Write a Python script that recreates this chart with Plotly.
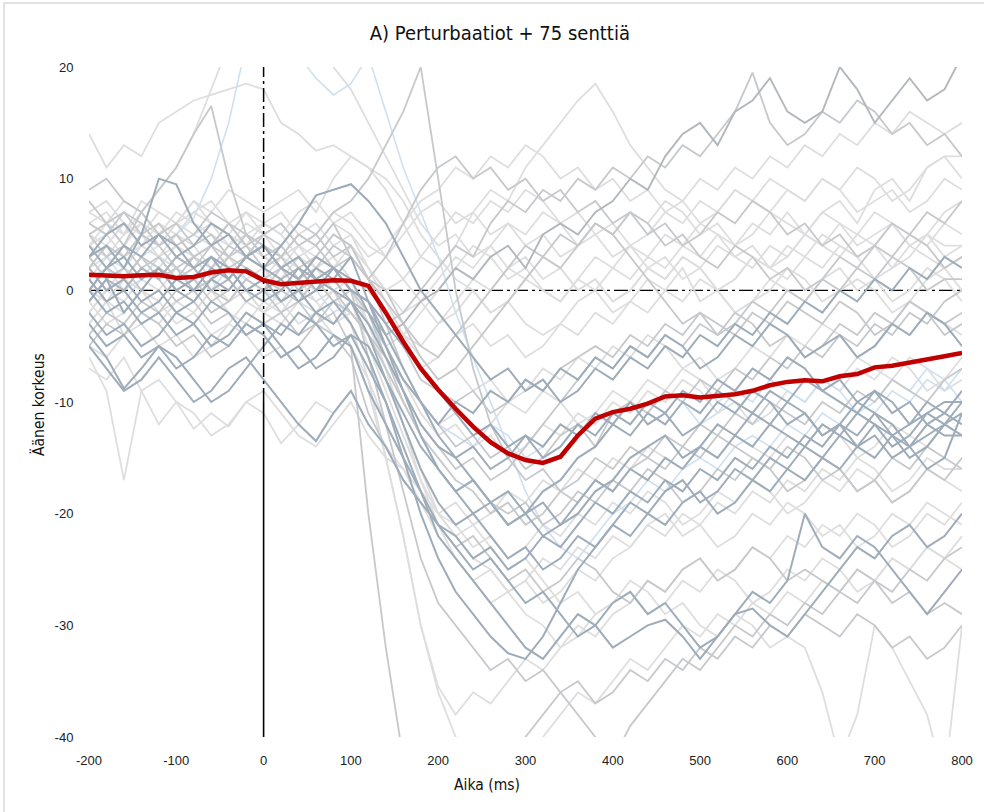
import plotly.graph_objects as go

# ---------------- data ----------------
time_ms = [-200, -180, -160, -140, -120, -100, -80, -60, -40, -20, 0,
           20, 40, 60, 80, 100, 120, 140, 160, 180, 200,
           220, 240, 260, 280, 300, 320, 340, 360, 380, 400,
           420, 440, 460, 480, 500, 520, 540, 560, 580, 600,
           620, 640, 660, 680, 700, 720, 740, 760, 780, 800]

mean_pitch = [1.4, 1.3, 1.25, 1.35, 1.4, 1.1, 1.2, 1.6, 1.8, 1.7, 0.9,
              0.55, 0.7, 0.85, 0.9, 0.85, 0.4, -2.0, -4.6, -7.0, -8.9,
              -10.6, -12.2, -13.6, -14.6, -15.2, -15.45, -14.9, -13.0, -11.5, -10.9,
              -10.6, -10.15, -9.5, -9.4, -9.6, -9.45, -9.3, -9.0, -8.5, -8.2,
              -8.05, -8.15, -7.7, -7.5, -6.9, -6.75, -6.5, -6.15, -5.9, -5.6]

trial_01 = [14, 11, 13, 12, 15, 16, 17, 17.5, 18, 18.5, 18,
            15, 14, 12.5, 13, 12, 11, 10, 8, 5, 3,
            1, 0, -2, -1, -3, -4, -3, -1, 0, 2,
            1, 3, 2, 4, 3, 5, 4, 6, 5, 7,
            5, 7, 8, 6, 9, 10, 8, 11, 12, 10]
trial_02 = [9, 10, 8, 7, 9, 11, 14, 16.5, 10, 5, 4,
            3, 5, 4, 6, 3, 1, -3, -7, -10, -12,
            -14, -13, -15, -14, -16, -15, -13, -12, -14, -11,
            -10, -11, -9, -10, -8, -9, -7, -8, -6, -7,
            -5, -6, -4, -5, -3, -4, -2, -3, -1, 0]
trial_03 = [4, 6, 5, 7, 9, 11, 14, 18, 22, 26, 30,
            28, 25, 22, 20, 18, 15, 12, 9, 6, 4,
            5, 3, 4, 2, 3, 1, 2, 0, 1, -1,
            0, 2, 1, 3, 2, 4, 3, 2, 4, 3,
            5, 4, 3, 5, 4, 6, 5, 4, 6, 5]
trial_04 = [2, 3, 1, 3, 4, 5, 6.5, 10, 15, 22, 27,
            24, 21, 19, 17.5, 18.5, 21, 16, 11, 7, 3,
            -2, -6, -10, -14, -18, -21, -23, -24, -22, -20,
            -19, -17, -18, -16, -15, -16, -14, -13, -14, -12,
            -13, -11, -12, -10, -11, -9, -10, -8, -9, -7]
trial_05 = [3, 1, 2, 0, 2, 1, 3, 2, 4, 3, 5,
            4, 6, 5, 7, 8, 10, 13, 16, 20, 10,
            0, -7, -12, -15, -17, -16, -18, -17, -15, -16,
            -14, -15, -13, -14, -12, -13, -11, -12, -10, -11,
            -12, -10, -11, -9, -10, -8, -9, -10, -8, -7]
trial_06 = [-1, 1, 0, 2, 1, 3, 2, 0, 1, -1, 0,
            1, 2, 0, 1, -1, -2, -4, -3, -1, 0,
            2, 1, 3, 4, 2, 5, 6, 5, 7, 8,
            10, 9, 12, 14, 15, 13, 16, 17, 19, 16,
            15, 16, 20, 18, 15, 17, 19, 17, 18, 21]
trial_07 = [5, 3, 4, 2, 3, 1, 2, 4, 3, 5, 4,
            2, 3, 1, 2, 0, -1, -3, -2, 0, 2,
            4, 3, 6, 8, 7, 9, 8, 10, 9, 11,
            10, 12, 11, 13, 12, 14, 16, 19.5, 15, 13,
            14, 16, 15, 17, 16, 14, 15, 13, 14, 12]
trial_08 = [6, 7, 5, 8, 7, 6, 8, 7, 9, 8, 7,
            8, 9, 7, 10, 12, 11, 9, 6, 3, 2,
            4, 7, 9, 8, 11, 13, 15, 17, 18.5, 16,
            13, 11, 9, 8, 10, 9, 11, 10, 12, 11,
            13, 12, 14, 13, 15, 14, 16, 15, 14, 15]
trial_09 = [2, 4, 3, 5, 4, 6, 5, 4, 6, 5, 3,
            2, 4, 3, 5, 4, 2, 0, -2, -1, 1,
            3, 2, 4, 6, 5, 7, 6, 4, 5, 3,
            4, 2, 3, 1, 2, 0, 1, 3, 2, 4,
            3, 5, 4, 3, 4, 2, 3, 5, 4, 4]
trial_10 = [-2, 0, -1, 1, 0, 2, 1, 3, 2, 1, 0,
            -1, 1, 0, 2, 1, 0, -2, -5, -7, -6,
            -4, -3, -5, -4, -6, -5, -3, -4, -2, -3,
            -1, -2, 0, -1, 1, 0, -2, -1, 0, 2,
            1, -1, 0, 1, 0, -2, -1, 1, 2, 0]
trial_11 = [5, 6, 4, 7, 5, 6, 4, 5, 3, 4, 2,
            3, 1, 2, 4, 3, 1, 0, -3, -6, -8,
            -7, -5, -3, -1, 1, 3, 2, 4, 6, 5,
            7, 6, 4, 5, 3, 2, 4, 3, 1, 2,
            0, 1, 3, 2, 4, 3, 5, 4, 2, 3]
trial_12 = [7, 8, 6, 5, 7, 6, 8, 6, 5, 7, 6,
            5, 7, 8, 6, 7, 5, 3, 1, -1, -3,
            -2, 0, -2, -1, 1, 0, -1, 1, 3, 2,
            4, 3, 5, 4, 6, 5, 3, 4, 2, 3,
            5, 4, 6, 5, 7, 6, 4, 5, 7, 8]
trial_13 = [1, -1, 0, -2, -1, 1, 0, 2, 1, 3, 2,
            4, 6, 8.5, 9, 9.5, 8, 6, 3, 0, -2,
            -4, -6, -8, -7, -9, -8, -10, -9, -7, -8,
            -6, -7, -5, -6, -4, -5, -3, -4, -2, -3,
            -1, -2, 0, -1, 1, 0, 2, 1, 3, 2]
trial_14 = [-4, -2, -3, -1, -2, 0, -1, -3, -2, -4, -3,
            -2, -4, -3, -1, -2, -4, -6, -9, -12, -14,
            -16, -15, -17, -16, -14, -12, -10, -8, -6, -7,
            -5, -6, -4, -5, -3, -4, -2, -3, -5, -4,
            -6, -5, -3, -4, -2, -3, -1, -2, -4, -3]
trial_15 = [3, 4, 2, 5, 10, 9.5, 6, 4, 5, 3, 4,
            2, 3, 1, 2, 0, -1, -4, -7, -10, -13,
            -15, -17, -19, -21, -20, -22, -21, -19, -17, -18,
            -16, -17, -15, -16, -14, -15, -13, -14, -12, -13,
            -14, -12, -13, -11, -12, -14, -13, -11, -12, -10]
trial_16 = [-5, -7, -9, -8, -6, -8, -10, -9, -7, -6, -8,
            -10, -12, -13.5, -11, -9, -12, -14, -17, -19, -21,
            -22, -24, -23, -25, -24, -22, -23, -21, -19, -20,
            -18, -19, -17, -18, -16, -17, -15, -16, -14, -15,
            -13, -14, -12, -13, -11, -12, -14, -13, -12, -11]
trial_17 = [-6, -9, -17, -9, -12, -10, -11, -13, -12, -10, -9,
            -11, -13, -14, -12, -10, -13, -15, -16, -18, -20,
            -19, -21, -20, -18, -19, -17, -18, -16, -17, -15,
            -16, -14, -15, -16, -14, -15, -13, -14, -15, -13,
            -14, -12, -13, -15, -14, -12, -13, -14, -12, -13]
trial_18 = [0, 2, 1, 3, 2, 0, 1, -1, 0, 2, 1,
            0, -1, 1, 0, -2, -4, -7, -10, -13, -15,
            -17, -18, -20, -19, -21, -20, -18, -19, -17, -18,
            -16, -15, -16, -14, -15, -13, -14, -15, -16, -14,
            -15, -17, -16, -18, -17, -15, -16, -14, -15, -16]
trial_19 = [2, 0, 1, -1, 0, -2, -1, 1, 0, 2, 1,
            -1, 0, 2, 1, 3, -1, -5, -9, -13, -16,
            -18, -20, -19, -21, -20, -18, -17, -15, -14, -12,
            -13, -11, -12, -10, -11, -9, -10, -11, -9, -10,
            -8, -9, -10, -11, -9, -10, -12, -11, -10, -10]
trial_20 = [-3, -1, -2, 0, -1, 1, 0, -2, -1, 0, -2,
            -3, -1, -2, 0, -1, -3, -5, -8, -11, -13,
            -12, -14, -13, -15, -14, -12, -13, -11, -12, -10,
            -11, -9, -10, -8, -9, -11, -10, -12, -11, -9,
            -10, -8, -9, -7, -8, -6, -7, -9, -8, -6]
trial_21 = [-3, -5, -4, -6, -5, -7, -6, -4, -5, -3, -4,
            -6, -5, -7, -6, -4, -7, -10, -14, -18, -22,
            -24, -26, -28, -30, -32, -33, -31, -29, -30, -28,
            -27, -29, -28, -30, -32, -31, -29, -27, -28, -26,
            -20, -23, -24, -22, -23, -25, -27, -29, -27, -25]
trial_22 = [1, 3, 2, 4, 3, 5, 4, 2, 3, 1, 2,
            0, 1, -1, 0, -3, -8, -15, -22, -30, -36,
            -40, -43, -45, -44, -42, -40, -38, -36, -37, -35,
            -33, -34, -32, -30, -31, -29, -30, -28, -29, -27,
            -28, -26, -27, -25, -26, -24, -25, -23, -24, -22]
trial_23 = [-1, 1, 0, 2, 1, -1, 0, -2, -1, 1, 0,
            2, 1, 3, 2, 0, -6, -12, -18, -24, -28,
            -30, -32, -34, -33, -35, -34, -36, -38, -40, -42,
            -39, -37, -35, -33, -34, -32, -30, -31, -29, -30,
            -28, -29, -27, -28, -26, -27, -25, -26, -24, -23]
trial_24 = [4, 2, 3, 1, 2, 0, 1, 3, 2, 0, 1,
            -1, 0, -2, -1, -3, -6, -10, -15, -20, -24,
            -27, -29, -31, -32.5, -33, -31, -28, -25, -23, -21,
            -19, -20, -18, -17, -19, -18, -16, -17, -15, -16,
            -14, -15, -13, -14, -12, -13, -15, -14, -12, -13]
trial_25 = [-2, -4, -3, -5, -4, -2, -3, -1, -2, -4, -3,
            -5, -7, -6, -4, -5, -9, -12, -15, -18, -21,
            -23, -25, -24, -26, -28, -27, -29, -31, -30, -32,
            -31, -30, -29.5, -31, -33, -31, -29, -28.5, -30, -31,
            -29, -27, -25, -23, -24, -22, -21, -23, -22, -20]
trial_26 = [5, 6, 4, 6, 5, 7, 6, 5, 4, 6, 5,
            3, 4, 2, 3, 1, -3, -7, -12, -16, -20,
            -22, -24, -25, -27, -26, -24, -25, -23, -24, -22,
            -23, -21, -22, -20, -21, -23, -22, -20, -21, -19,
            -20, -22, -21, -23, -22, -20, -21, -19, -20, -21]
trial_27 = [-5, -3, -4, -2, -3, -5, -4, -6, -5, -3, -4,
            -6, -5, -3, -4, -6, -11, -14, -17, -19, -21,
            -23, -22, -24, -26, -25, -27, -26, -24, -25, -27,
            -28, -26, -27, -25, -24, -26, -25, -23, -24, -26,
            -25, -26, -27, -25, -26, -28, -27, -29, -28, -29]
trial_28 = [0, -2, -1, -3, -2, -4, -3, -5, -4, -2, -3,
            -4, -2, -3, -5, -4, -5, -8, -11, -14, -16,
            -18, -17, -19, -18, -20, -19, -21, -20, -18, -17,
            -15, -14, -13, -15, -14, -12, -13, -11, -12, -10,
            -11, -13, -12, -14, -13, -15, -14, -12, -13, -13]
trial_29 = [3, 1, 2, 4, 3, 1, 2, 0, 1, 3, 2,
            1, 3, 2, 0, 1, 0, -2, -4, -6, -8,
            -7, -9, -8, -10, -9, -7, -8, -6, -7, -5,
            -6, -4, -5, -7, -6, -8, -7, -5, -6, -4,
            -5, -3, -4, -6, -5, -3, -4, -2, -3, -4]
trial_30 = [6, 5, 7, 6, 4, 5, 3, 4, 6, 5, 3,
            4, 2, 3, 5, 4, 1, -1, -3, -5, -6,
            -4, -2, 0, 2, 4, 3, 5, 4, 6, 5,
            3, 1, -1, -3, -2, -4, -3, -1, -2, 0,
            -1, 1, 0, 2, 1, 3, 2, 0, 1, 1]
trial_31 = [-7, -8, -6, -9, -8, -10, -12.4, -11, -12.2, -10, -11,
            -13.7, -12, -10, -11, -9, -12, -14, -16, -19, -22,
            -24, -26, -25, -27, -26, -28, -27, -25, -26, -24,
            -23, -21, -20, -22, -21, -19, -20, -18, -19, -17,
            -18, -16, -17, -15, -16, -18, -17, -15, -16, -16]
trial_32 = [-4, -6, -8.8, -7, -5, -6, -8, -10, -9, -7, -5,
            -3, -4, -2, -3, -1, -4, -8, -12, -16, -19,
            -21, -20, -22, -24, -23, -25, -24, -22, -23, -21,
            -22, -20, -21, -19, -18, -20, -19, -17, -18, -16,
            -17, -15, -16, -14, -15, -13, -14, -16, -15, -11]
trial_33 = [4, 5, 3, 4, 6, 5, 7, 6, 5, 4, 6,
            7, 5, 6, 4, 5, 2, 0, 1, 3, 5,
            7, 6, 8, 7, 9, 8, 6, 7, 5, 6,
            4, 5, 7, 6, 8, 7, 9, 8, 10, 9,
            8, 10, 9, 11, 10, 8, 9, 11, 12, 12]
trial_34 = [1, -1, 0, 2, 1, 3, 2, 0, -1, 1, 0,
            -2, -1, -3, -2, -5, -20, -32, -42, -48, -50,
            -48, -46, -44, -42, -40, -38, -36, -35, -37, -36,
            -34, -35, -33, -34, -32, -33, -31, -32, -30, -31,
            -29, -30, -31, -29, -30, -32, -31, -33, -32, -30]
trial_35 = [2, 0, 1, 3, 2, 4, 3, 1, 2, 0, 1,
            3, 2, 0, 1, -1, -5, -9, -13, -17, -20,
            -22, -21, -23, -25, -24, -26, -28, -27, -29, -28,
            -26, -27, -29, -28, -30, -31, -29, -30, -32, -31,
            -32, -36, -42, -38, -30, -32, -35, -38, -44, -30]
trial_36 = [-1, -3, -2, 0, -1, -3, -2, -4, -3, -1, -2,
            0, -1, 1, -1, 0, -3, -5, -4, -2, 0,
            2, 4, 3, 1, 2, 0, -1, 1, 0, -2,
            -1, 1, 0, 2, -1, 0, -2, -1, 1, 0,
            -1, 1, 2, 0, 1, -1, 0, 2, 1, -1]
trial_37 = [0, 2, 4, 3, 5, 4, 2, 3, 1, 3, 2,
            1, -1, 0, 2, 1, -2, -5, -8, -10, -12,
            -10, -11, -9, -10, -8, -9, -7, -8, -6, -7,
            -5, -6, -4, -5, -7, -6, -4, -5, -3, -4,
            -6, -5, -4, -6, -5, -3, -4, -2, -3, -5]
trial_38 = [8, 6, 7, 5, 6, 4, 5, 7, 6, 4, 5,
            6, 4, 5, 3, 4, 1, 3, 6, 9, 11,
            12, 10, 11, 9, 10, 8, 9, 7, 8, 6,
            7, 5, 6, 4, 5, 7, 6, 8, 7, 5,
            6, 4, 5, 3, 4, 6, 5, 7, 6, 8]
trial_39 = [-2, 0, 2, 1, 3, 2, 0, 1, -1, 0, -2,
            -1, -3, -2, -4, -5, -9, -15, -22, -30, -35.5,
            -38, -36, -37, -35, -33, -34, -32, -30, -31, -29,
            -28, -26, -27, -25, -24, -26, -25, -23, -24, -22,
            -23, -21, -22, -20, -21, -23, -22, -20, -21, -19]
trial_40 = [3, 5, 6, 4, 5, 3, 4, 6, 5, 3, 4,
            2, 1, 3, 2, 0, -1, -3, -5, -7, -9,
            -11, -13, -12, -14, -13, -15, -14, -12, -13, -11,
            -12, -10, -11, -9, -10, -8, -9, -7, -8, -6,
            -7, -9, -8, -10, -9, -11, -10, -12, -11, -9]
trial_41 = [7, 6, 8, 7, 5, 6, 7, 8, 6, 7, 5,
            6, 4, 5, 7, 6, 4, 3, 5, 7, 8,
            6, 7, 5, 6, 4, 5, 3, 4, 6, 5,
            7, 6, 8, 7, 5, 6, 4, 5, 7, 6,
            5, 7, 6, 4, 5, 6, 4, 5, 3, 4]
trial_42 = [-3, -1, -4, -2, -3, -1, -2, 0, -2, -3, -1,
            -2, 0, -1, -3, -2, -4, -6, -8, -10, -12,
            -11, -13, -12, -10, -11, -9, -10, -12, -11, -9,
            -10, -8, -9, -7, -8, -10, -9, -7, -8, -6,
            -7, -9, -8, -6, -7, -8, -6, -7, -9, -8]
trial_43 = [0, 2, 1, 3, 1, 2, 0, 1, 3, 2, 1,
            2, 0, 1, -1, 0, -2, -6, -10, -13, -16,
            -18, -17, -19, -20, -19, -21, -20, -18, -19, -17,
            -18, -16, -17, -19, -18, -16, -17, -15, -16, -18,
            -17, -15, -16, -18, -17, -19, -18, -16, -17, -15]
trial_44 = [4, 3, 5, 6, 4, 5, 3, 4, 6, 4, 3,
            2, 3, 1, 2, 4, 2, -1, -4, -5, -3,
            -1, 1, 0, 2, 1, 3, 2, 0, 1, -1,
            0, 2, 1, 3, 2, 0, 1, 3, 2, 1,
            3, 2, 4, 3, 1, 2, 4, 3, 2, 3]
trial_45 = [-1, 1, -2, 0, 2, 0, -1, 1, 2, 0, -1,
            0, 2, 1, 0, -1, -3, -6, -9, -12, -14,
            -15, -14, -16, -15, -13, -14, -12, -13, -11, -12,
            -10, -12, -11, -13, -12, -10, -11, -9, -10, -12,
            -11, -13, -12, -10, -11, -13, -12, -10, -11, -12]
trial_46 = [5, 4, 6, 5, 3, 4, 5, 6, 4, 5, 6,
            5, 3, 4, 6, 5, 3, 4, 6, 8, 9,
            11, 10, 12, 11, 13, 12, 10, 11, 9, 10,
            8, 9, 7, 8, 6, 7, 9, 8, 7, 9,
            8, 10, 9, 7, 8, 9, 7, 8, 10, 9]
trial_47 = [-5, -6, -4, -3, -5, -4, -6, -5, -3, -4, -6,
            -5, -7, -6, -4, -5, -8, -12, -15, -18, -20,
            -21, -23, -22, -24, -23, -21, -22, -20, -21, -19,
            -20, -18, -19, -21, -20, -18, -19, -17, -18, -20,
            -19, -17, -18, -16, -17, -19, -18, -16, -17, -18]
trial_48 = [2, 4, 3, 5, 4, 2, 3, 4, 2, 3, 4,
            3, 5, 4, 2, 3, 1, -2, -5, -8, -9,
            -10, -9, -11, -10, -8, -9, -7, -6, -5, -6,
            -4, -5, -3, -4, -2, -3, -4, -2, -3, -1,
            -2, -3, -1, -2, -4, -3, -1, -2, -3, -2]
trial_49 = [0, -1, 1, 0, -2, -1, 0, 2, 1, -1, 0,
            1, -1, 0, 2, 0, -3, -7, -12, -17, -21,
            -24, -26, -28, -27, -29, -30, -32, -31, -29, -28,
            -27, -29, -28, -26, -27, -25, -26, -28, -27, -25,
            -26, -24, -25, -27, -26, -24, -25, -23, -24, -25]
trial_50 = [1, 2, 0, 1, 3, 2, 1, 0, 2, 1, 0,
            -1, 1, 0, -2, -1, -3, -5, -8, -10, -12,
            -13, -14, -12, -13, -15, -14, -12, -13, -11, -12,
            -10, -11, -9, -10, -12, -11, -9, -10, -8, -9,
            -10, -8, -9, -11, -10, -8, -9, -7, -8, -10]

x_tick_values = [-200, -100, 0, 100, 200, 300, 400, 500, 600, 700, 800]
x_tick_labels = ["-200", "-100", "0", "100", "200", "300", "400", "500", "600", "700", "800"]
y_tick_values = [-40, -30, -20, -10, 0, 10, 20]
y_tick_labels = ["-40", "-30", "-20", "-10", "0", "10", "20"]

# ---------------- styles ----------------
LIGHT = "#dedede"
MID = "#c6c8cb"
DARKMID = "#b3b7bc"
BLUE = "#9eacba"
LBLUE = "#cfe0f1"

light_trials = [trial_01, trial_03, trial_08, trial_09, trial_10, trial_12, trial_17, trial_20,
                trial_22, trial_26, trial_29, trial_31, trial_33, trial_35, trial_36, trial_39,
                trial_41, trial_42, trial_44, trial_46, trial_47, trial_49]
lblue_trials = [trial_04, trial_50]
mid_trials = [trial_02, trial_05, trial_07, trial_11, trial_14, trial_18, trial_23, trial_27,
              trial_30, trial_34, trial_38, trial_43, trial_48]
darkmid_trials = [trial_06]
blue_trials = [trial_13, trial_15, trial_16, trial_19, trial_21, trial_24, trial_25, trial_28,
               trial_32, trial_37, trial_40, trial_45]

fig = go.Figure()

def add_group(trials, color, width):
    for tr in trials:
        fig.add_trace(go.Scatter(x=time_ms, y=tr, mode="lines",
                                 line=dict(color=color, width=width),
                                 hoverinfo="skip", showlegend=False))

add_group(light_trials, LIGHT, 1.8)
add_group(lblue_trials, LBLUE, 1.6)
add_group(mid_trials, MID, 1.8)
add_group(darkmid_trials, DARKMID, 1.9)
add_group(blue_trials, BLUE, 2.0)

fig.add_trace(go.Scatter(x=time_ms, y=mean_pitch, mode="lines",
                         line=dict(color="#c00000", width=4.5),
                         hoverinfo="skip", showlegend=False))

# reference lines and chart border
shapes = [
    dict(type="line", xref="x", yref="y", x0=-200, x1=800, y0=0, y1=0,
         line=dict(color="black", width=1.4, dash="14px,4px,3px,4px"), layer="below"),
    dict(type="line", xref="x", yref="y", x0=0, x1=0, y0=-10, y1=20,
         line=dict(color="black", width=1.5, dash="14px,4px,3px,4px"), layer="above"),
    dict(type="line", xref="x", yref="y", x0=0, x1=0, y0=-40, y1=-10,
         line=dict(color="black", width=1.6), layer="above"),
    dict(type="line", xref="paper", yref="paper", x0=-0.0974, x1=-0.0974, y0=-0.12, y1=1.0955,
         line=dict(color="#d9d9d9", width=1.5)),
    dict(type="line", xref="paper", yref="paper", x0=-0.0974, x1=1.03, y0=1.0955, y1=1.0955,
         line=dict(color="#d9d9d9", width=1.5)),
]

NARROW = "Liberation Sans Narrow, DejaVu Sans Condensed, Arial Narrow, sans-serif"

fig.update_layout(
    width=984, height=812, autosize=False,
    margin=dict(l=89, r=22, t=67, b=75),
    paper_bgcolor="white", plot_bgcolor="white",
    showlegend=False, hovermode=False,
    title=dict(text="A) Perturbaatiot + 75 senttiä", x=0.508, xanchor="center",
               y=1 - 33 / 812, yanchor="middle",
               font=dict(family=NARROW, size=20, color="#111111")),
    shapes=shapes,
    annotations=[
        dict(text="Aika (ms)", xref="paper", yref="paper", x=0.456, y=-0.0716,
             showarrow=False, xanchor="center", yanchor="middle",
             font=dict(family=NARROW, size=15.5, color="#111111")),
        dict(text="Äänen korkeus", xref="paper", yref="paper", x=-0.0584, y=0.4955,
             showarrow=False, textangle=-90, xanchor="center", yanchor="middle",
             font=dict(family=NARROW, size=15.5, color="#111111")),
    ],
)

fig.update_xaxes(range=[-200, 800], tickvals=x_tick_values, ticktext=x_tick_labels,
                 showgrid=False, zeroline=False, showline=False,
                 ticks="outside", ticklen=11, tickcolor="rgba(0,0,0,0)",
                 tickfont=dict(family="Liberation Sans, Arial, sans-serif", size=13, color="#222222"))
fig.update_yaxes(range=[-40, 20], tickvals=y_tick_values, ticktext=y_tick_labels,
                 showgrid=False, zeroline=False, showline=False,
                 ticks="outside", ticklen=12, tickcolor="rgba(0,0,0,0)",
                 tickfont=dict(family="Liberation Sans, Arial, sans-serif", size=13, color="#222222"))

fig.write_html("out.html")
